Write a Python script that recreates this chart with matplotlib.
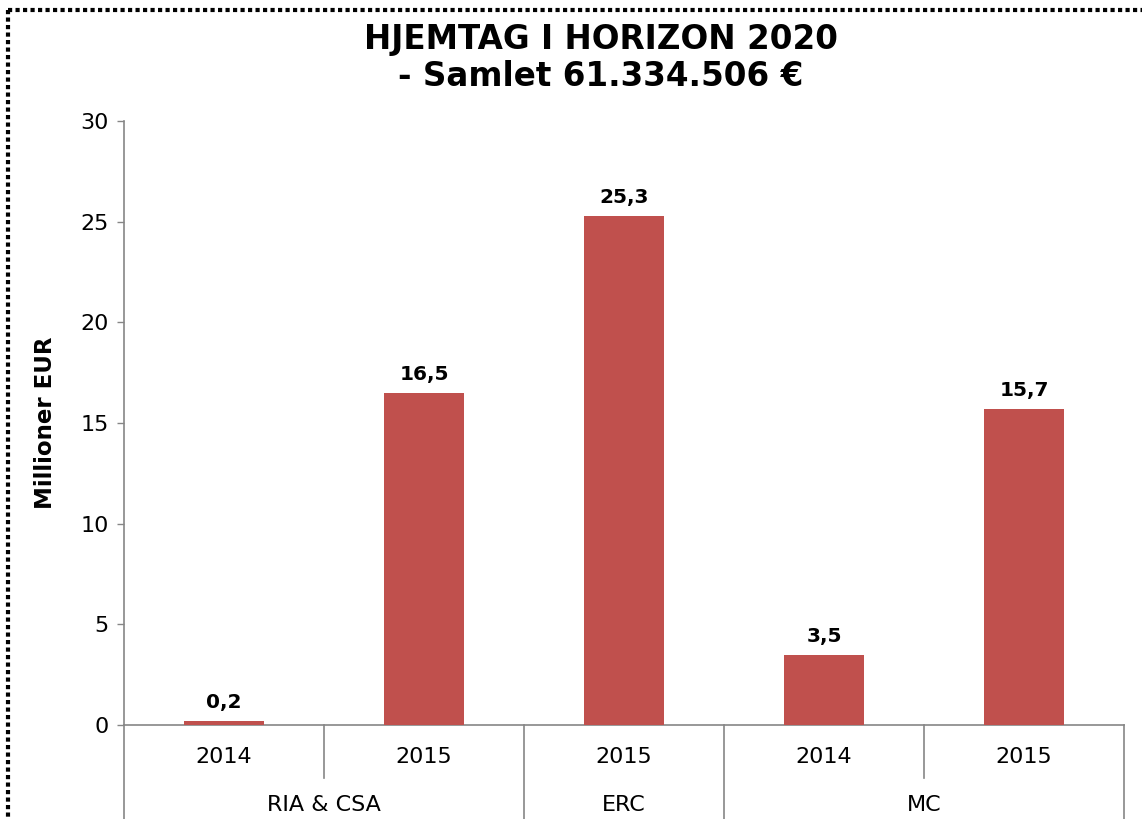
import matplotlib
matplotlib.use("Agg")
import matplotlib.pyplot as plt
from matplotlib.lines import Line2D
import matplotlib.transforms as mtransforms

# Data
groups = ["RIA & CSA", "RIA & CSA", "ERC", "MC", "MC"]
years = ["2014", "2015", "2015", "2014", "2015"]
values = [0.2, 16.5, 25.3, 3.5, 15.7]
title_lines = ["HJEMTAG I HORIZON 2020", "- Samlet 61.334.506 €"]
y_label = "Millioner EUR"
y_ticks = [0, 5, 10, 15, 20, 25, 30]

W, H = 1142, 819
fig = plt.figure(figsize=(W / 100, H / 100), dpi=100)
plt.rcParams['font.family'] = ['DejaVu Sans']

ax_l, ax_r, ax_b, ax_t = 124, 1124, 725, 121
ax = fig.add_axes([ax_l / W, 1 - ax_b / H, (ax_r - ax_l) / W, (ax_b - ax_t) / H])

bar_color = "#C0504D"
axis_color = "#868686"
x = list(range(len(values)))
ax.bar(x, values, width=0.4, color=bar_color, zorder=3)

for xi, v in zip(x, values):
    ax.annotate(f"{v:.1f}".replace(".", ","), (xi, v), xytext=(0, 9),
                textcoords="offset points", ha="center", va="baseline",
                fontsize=14.5, fontweight="bold", color="black")

ax.set_xlim(-0.5, len(values) - 0.5)
ax.set_ylim(0, 30)
ax.set_yticks(y_ticks)
ax.set_yticklabels([str(t) for t in y_ticks], fontsize=16)
ax.tick_params(axis="y", direction="out", length=5, width=1, color=axis_color, pad=6)
ax.set_xticks([])

for s in ["top", "right"]:
    ax.spines[s].set_visible(False)
for s in ["left", "bottom"]:
    ax.spines[s].set_color(axis_color)
    ax.spines[s].set_linewidth(1.2)

ax.set_ylabel(y_label, fontsize=16.5, fontweight="bold", labelpad=17)

trans = mtransforms.blended_transform_factory(ax.transData, ax.transAxes)
ah = ax_b - ax_t
short = -(778 - ax_b) / ah
long_ = -(H + 10 - ax_b) / ah

# year labels
for xi, yr in zip(x, years):
    ax.text(xi, -(757 - ax_b) / ah, yr, transform=trans, ha="center", va="center",
            fontsize=16, color="black")

# group spans
spans = []
start = 0
for i in range(1, len(groups) + 1):
    if i == len(groups) or groups[i] != groups[start]:
        spans.append((groups[start], start, i - 1))
        start = i

bounds = set()
for name, s, e in spans:
    ax.text((s + e) / 2, -(805 - ax_b) / ah, name, transform=trans, ha="center",
            va="center", fontsize=16, color="black")
    bounds.add(s - 0.5)
    bounds.add(e + 0.5)

for b in [i + 0.5 for i in range(-1, len(values))]:
    y_end = long_ if b in bounds else short
    ax.add_line(Line2D([b, b], [0, y_end], transform=trans, color=axis_color,
                       lw=1.2, clip_on=False))

# title
fig.text(601 / W, 1 - 40 / H, title_lines[0], ha="center", va="center",
         fontsize=23.5, fontweight="bold")
fig.text(601 / W, 1 - 77 / H, title_lines[1], ha="center", va="center",
         fontsize=23.5, fontweight="bold")

# dotted border (top and left visible)
bx, by = 8, 10
fig.add_artist(Line2D([bx / W, 1.0], [1 - by / H, 1 - by / H], transform=fig.transFigure,
                      color="black", lw=3, linestyle=(0, (1, 0.8)), dash_capstyle="butt"))
fig.add_artist(Line2D([bx / W, bx / W], [1 - by / H, 0], transform=fig.transFigure,
                      color="black", lw=3, linestyle=(0, (1, 0.8)), dash_capstyle="butt"))

fig.savefig("out.png", dpi=100, facecolor="white")
